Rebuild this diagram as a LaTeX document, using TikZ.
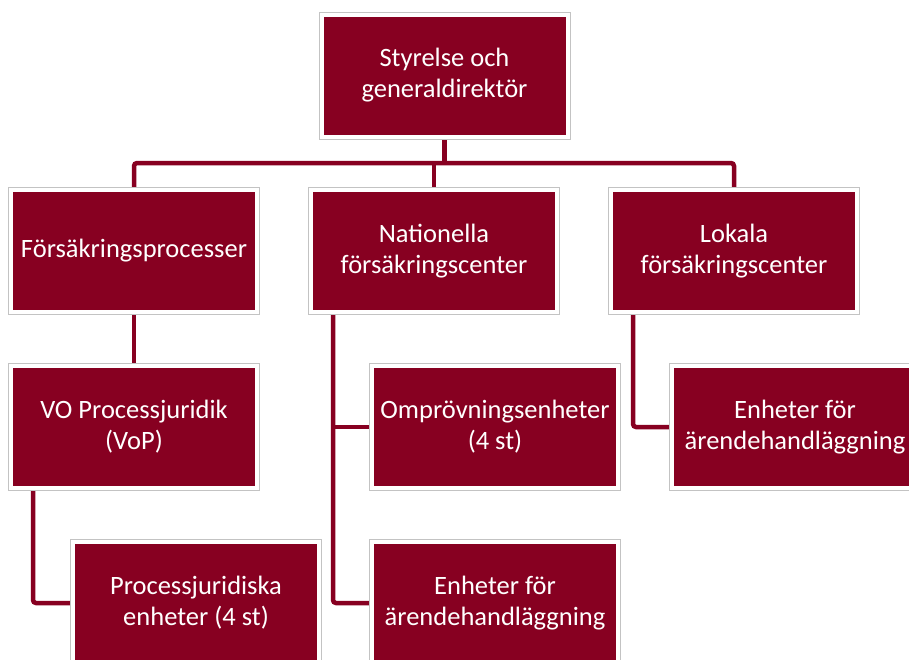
\documentclass[tikz,border=0pt]{standalone}
\usepackage{fontspec}
\setmainfont{Carlito}
\usetikzlibrary{backgrounds}
\definecolor{boxred}{RGB}{135,0,33}
\definecolor{edgegray}{RGB}{195,195,195}
\tikzset{
  orgbox/.style={rectangle, fill=boxred, draw=white, line width=4pt,
    preaction={draw=edgegray, line width=6pt},
    minimum width=246pt, minimum height=122pt, inner sep=0pt,
    align=center, text=white, font=\fontsize{26.5}{31}\selectfont},
  link/.style={draw=boxred, line width=4.5pt},
  rlink/.style={link, rounded corners=3pt}
}
\begin{document}
\begin{tikzpicture}[x=1pt,y=-1pt]
\useasboundingbox (0,0) rectangle (909,659);
\clip (0,0) rectangle (909,659);
\node[orgbox] (top) at (444.5,75.5) {Styrelse och\\generaldirektör};
\node[orgbox] (fp) at (134,251) {Försäkringsprocesser};
\node[orgbox] (nat) at (434,251) {Nationella\\försäkringscenter};
\node[orgbox] (lok) at (734,251) {Lokala\\försäkringscenter};
\node[orgbox] (vo) at (134,426.5) {VO Processjuridik\\(VoP)};
\node[orgbox] (omp) at (495,427) {Omprövningsenheter\\(4 st)};
\node[orgbox] (enhA) at (795,427) {Enheter för\\ärendehandläggning};
\node[orgbox] (pj) at (196,603) {Processjuridiska\\enheter (4 st)};
\node[orgbox] (enhB) at (495,603) {Enheter för\\ärendehandläggning};
\coordinate (bus) at (0,163);
\coordinate (natline) at ([xshift=24pt]nat.south west);
\begin{scope}[on background layer]
  \draw[link] (top.south) -- (top.south |- bus);
  \draw[rlink] (fp.north) -- (fp.north |- bus) -- (lok.north |- bus) -- (lok.north);
  \draw[link] (nat.north) -- (nat.north |- bus);
  \draw[link] (fp.south) -- (vo.north);
  \draw[rlink] ([xshift=24pt]vo.south west) |- (pj.west);
  \draw[rlink] (natline) |- (enhB.west);
  \draw[link] (omp.west) -- (omp.west -| natline);
  \draw[rlink] ([xshift=24pt]lok.south west) |- (enhA.west);
\end{scope}
\end{tikzpicture}
\end{document}
